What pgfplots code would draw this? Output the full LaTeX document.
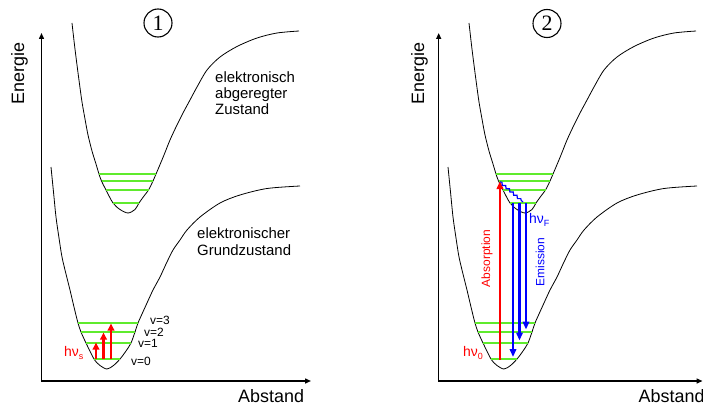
\documentclass[border=0pt]{standalone}
\usepackage{fontspec}
\setmainfont{Liberation Sans}
\newfontfamily\seriffont{Liberation Serif}
\usepackage{pgfplots}
\pgfplotsset{compat=1.18}
\usepackage{pgfplotstable}
\usetikzlibrary{arrows.meta,decorations.pathmorphing}
\definecolor{lev}{RGB}{95,235,45}
\definecolor{rd}{RGB}{255,0,0}
\definecolor{bl}{RGB}{0,0,255}

% potential curves (pixel coordinates of panel 1)
\pgfplotstableread{
x y
72 23
74.5 45
77 65
79.5 84
82 102
85 119
88 135
92 151
96 164
99 174
101.5 181
106 190
113 203
120 209.5
128 213
135 209.5
139 203
144 196
148.5 190
153 181
156 174
159 167
164 155
170 140
176.5 126
183 113
190 100
197 87
207 70
220 57
237 46.5
257 38
277 33
299 31
}\excitedcurve
\pgfplotstableread{
x y
51 167
53.5 192
56 217
59 238
62 257
66 274
70 290
74 307
78 323
81 332
86 343
94 359
100 365.5
107 369
113.5 365.5
120 359
126 351
131 343
135 332
138 323
142 314
147 303
153 290
160 277
166.5 263
173 250
180 240
187 230
200 217
220 203
240 195
267 188.5
300 186
}\groundcurve

\begin{document}
\begin{tikzpicture}
\begin{axis}[
  scale only axis, width=703bp, height=405bp,
  xmin=0, xmax=703, ymin=0, ymax=405, y dir=reverse,
  hide axis, clip=false,
  lv/.style={lev, line width=1.7bp},
]
\coordinate (tl) at (axis cs:0,0);
\coordinate (br) at (axis cs:703,405);

% ---------- panel 1 ----------
\addplot[black, line width=1.4bp, -{Triangle[length=6bp,width=5bp]}] coordinates {(41.5,381) (41.5,33)};
\addplot[black, line width=1.4bp, -{Triangle[length=6bp,width=5bp]}] coordinates {(40.8,381) (311,381)};
\addplot[black, line width=0.8bp, smooth] table[x=x,y=y] {\excitedcurve};
\addplot[black, line width=0.8bp, smooth] table[x=x,y=y] {\groundcurve};
% vibrational levels
\addplot[lv] coordinates {(99,174) (156,174)};
\addplot[lv] coordinates {(101.5,181) (153,181)};
\addplot[lv] coordinates {(106,190) (148.5,190)};
\addplot[lv] coordinates {(113,203) (139,203)};
\addplot[lv] coordinates {(78,323) (138,323)};
\addplot[lv] coordinates {(81,332) (135,332)};
\addplot[lv] coordinates {(86,343) (131,343)};
\addplot[lv] coordinates {(94,359) (120,359)};
% red excitation arrows
\addplot[rd, line width=2.3bp, -{Triangle[length=7bp,width=6.5bp]}] coordinates {(96,359) (96,342.5)};
\addplot[rd, line width=2.3bp, -{Triangle[length=7bp,width=6.5bp]}] coordinates {(103.5,359) (103.5,332.5)};
\addplot[rd, line width=2.3bp, -{Triangle[length=7bp,width=6.5bp]}] coordinates {(111,359) (111,323.5)};

\node[rotate=90, font=\fontsize{18}{20}\selectfont] at (axis cs:19.5,73.5) {Energie};
\node[anchor=base west, inner sep=0, font=\fontsize{18}{20}\selectfont] at (axis cs:238,402) {Abstand};
\node[anchor=base west, inner sep=0, font=\fontsize{15}{17}\selectfont] at (axis cs:215,82) {elektronisch};
\node[anchor=base west, inner sep=0, font=\fontsize{15}{17}\selectfont] at (axis cs:215,98) {abgeregter};
\node[anchor=base west, inner sep=0, font=\fontsize{15}{17}\selectfont] at (axis cs:215,114) {Zustand};
\node[anchor=base west, inner sep=0, font=\fontsize{15}{17}\selectfont] at (axis cs:197,238) {elektronischer};
\node[anchor=base west, inner sep=0, font=\fontsize{15}{17}\selectfont] at (axis cs:197,255) {Grundzustand};
\node[anchor=base west, inner sep=0, font=\fontsize{12}{14}\selectfont] at (axis cs:150,324) {v=3};
\node[anchor=base west, inner sep=0, font=\fontsize{12}{14}\selectfont] at (axis cs:144,336) {v=2};
\node[anchor=base west, inner sep=0, font=\fontsize{12}{14}\selectfont] at (axis cs:138,347) {v=1};
\node[anchor=base west, inner sep=0, font=\fontsize{12}{14}\selectfont] at (axis cs:131,365) {v=0};
\node[anchor=base west, inner sep=0, text=rd, font=\fontsize{14}{16}\selectfont] at (axis cs:64,356) {hν\raisebox{-0.45ex}{\fontsize{9}{9}\selectfont s}};
\node[draw, circle, line width=1.1bp, minimum size=28bp, inner sep=0, font=\fontsize{22}{22}\selectfont\seriffont] at (axis cs:158,23) {1};

% ---------- panel 2 ----------
\addplot[black, line width=1.4bp, -{Triangle[length=6bp,width=5bp]}] coordinates {(438.7,381) (438.7,33)};
\addplot[black, line width=1.4bp, -{Triangle[length=6bp,width=5bp]}] coordinates {(438,381) (702.5,381)};
\addplot[black, line width=0.8bp, smooth] table[x expr=\thisrow{x}+397,y=y] {\excitedcurve};
\addplot[black, line width=0.8bp, smooth] table[x expr=\thisrow{x}+397,y=y] {\groundcurve};
\addplot[lv] coordinates {(496,174) (553,174)};
\addplot[lv] coordinates {(498.5,181) (550,181)};
\addplot[lv] coordinates {(503,190) (545.5,190)};
\addplot[lv] coordinates {(510,203) (536,203)};
\addplot[lv] coordinates {(475,323) (535,323)};
\addplot[lv] coordinates {(478,332) (532,332)};
\addplot[lv] coordinates {(483,343) (528,343)};
\addplot[lv] coordinates {(491,359) (517,359)};
% absorption
\addplot[rd, line width=2.3bp, -{Triangle[length=8bp,width=6.5bp]}] coordinates {(500,359.5) (500,181)};
% emission
\addplot[bl, line width=2.3bp, -{Triangle[length=8bp,width=6.5bp]}] coordinates {(513,203) (513,357)};
\addplot[bl, line width=2.3bp, -{Triangle[length=8bp,width=6.5bp]}] coordinates {(519.5,203) (519.5,340.5)};
\addplot[bl, line width=2.3bp, -{Triangle[length=8bp,width=6.5bp]}] coordinates {(526,203) (526,329.5)};
% relaxation
\addplot[bl, line width=1.2bp, decorate, decoration={snake, amplitude=1.1bp, segment length=5bp}] coordinates {(500,182) (523,202)};

\node[rotate=90, font=\fontsize{18}{20}\selectfont] at (axis cs:419.5,73.5) {Energie};
\node[anchor=base west, inner sep=0, font=\fontsize{18}{20}\selectfont] at (axis cs:638.5,402) {Abstand};
\node[rotate=90, text=rd, font=\fontsize{12}{14}\selectfont] at (axis cs:487,258.5) {Absorption};
\node[rotate=90, text=bl, font=\fontsize{12}{14}\selectfont] at (axis cs:540,262) {Emission};
\node[anchor=base west, inner sep=0, text=bl, font=\fontsize{14}{16}\selectfont] at (axis cs:529,223) {hν\raisebox{-0.45ex}{\fontsize{9}{9}\selectfont F}};
\node[anchor=base west, inner sep=0, text=rd, font=\fontsize{14}{16}\selectfont] at (axis cs:463,356) {hν\raisebox{-0.45ex}{\fontsize{9}{9}\selectfont 0}};
\node[draw, circle, line width=1.1bp, minimum size=28bp, inner sep=0, font=\fontsize{22}{22}\selectfont\seriffont] at (axis cs:547,23.5) {2};
\end{axis}
\pgfresetboundingbox
\useasboundingbox (tl) rectangle (br);
\end{tikzpicture}
\end{document}
